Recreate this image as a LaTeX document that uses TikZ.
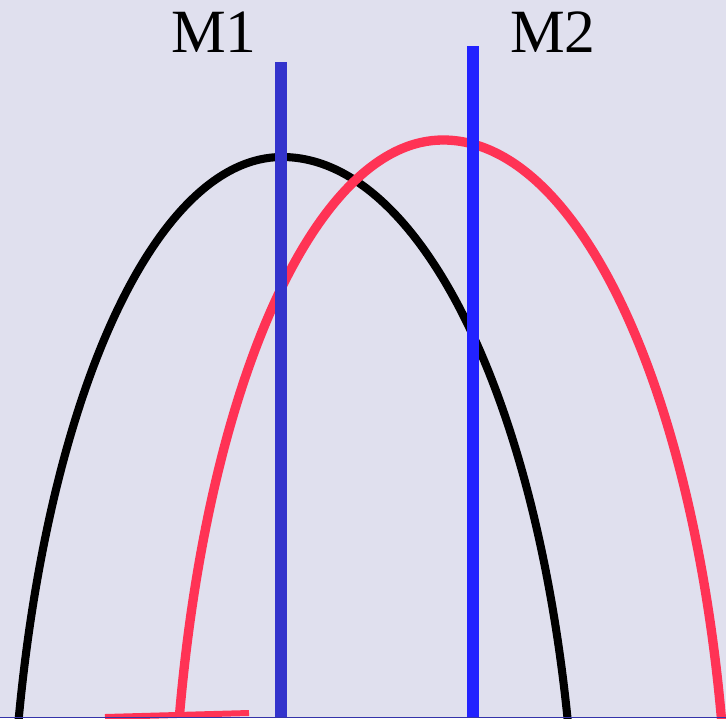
\documentclass[tikz,border=0pt]{standalone}
\usepackage{fontspec}
\setmainfont{Liberation Serif}
\definecolor{bgcol}{HTML}{E0E0EE}
\definecolor{mirrorA}{HTML}{3333CC}
\definecolor{mirrorB}{HTML}{2222FF}
\definecolor{redcurve}{HTML}{FF3355}
\definecolor{axiscol}{HTML}{3333AA}
\begin{document}
\begin{tikzpicture}[x=0.2mm, y=0.2mm,
    curve/.style={line width=4.6pt},
    mirror/.style={line width=6.6pt},
    lbl/.style={font=\fontsize{35}{40}\selectfont, anchor=base, inner sep=0pt}]
    \fill[bgcol] (0,0) rectangle (726,718);
    \useasboundingbox (0,0) rectangle (726,718);

    \begin{scope}
        \clip (0,0) rectangle (726,718);
        % black arch, apex at (282,561)
        \draw[curve, black] (282,561) arc[start angle=90, end angle=166, x radius=272, y radius=750];
        \draw[curve, black] (282,561) arc[start angle=90, end angle=14, x radius=295, y radius=750];
        % red arch, apex at (443,578)
        \draw[curve, line width=5.3pt, redcurve] (443,578) arc[start angle=90, end angle=166.4, x radius=271, y radius=750];
        \draw[curve, line width=5.3pt, redcurve] (443,578) arc[start angle=90, end angle=12, x radius=286, y radius=750];
        \draw[redcurve, line width=3.4pt] (105,1) -- (249,5);

        \coordinate (m1bot) at (281,0);
        \coordinate (m1top) at (281,656);
        \coordinate (m2bot) at (473,0);
        \coordinate (m2top) at (473,672);
        \draw[mirror, mirrorA] (m1bot) -- (m1top);
        \draw[mirror, mirrorB] (m2bot) -- (m2top);
        \draw[axiscol, line width=0.6pt] (0,0.5) -- (726,0.5);
    \end{scope}

    \node[lbl] (m1) at (214,665) {M1};
    \node[lbl] (m2) at (553,665) {M2};
\end{tikzpicture}
\end{document}
